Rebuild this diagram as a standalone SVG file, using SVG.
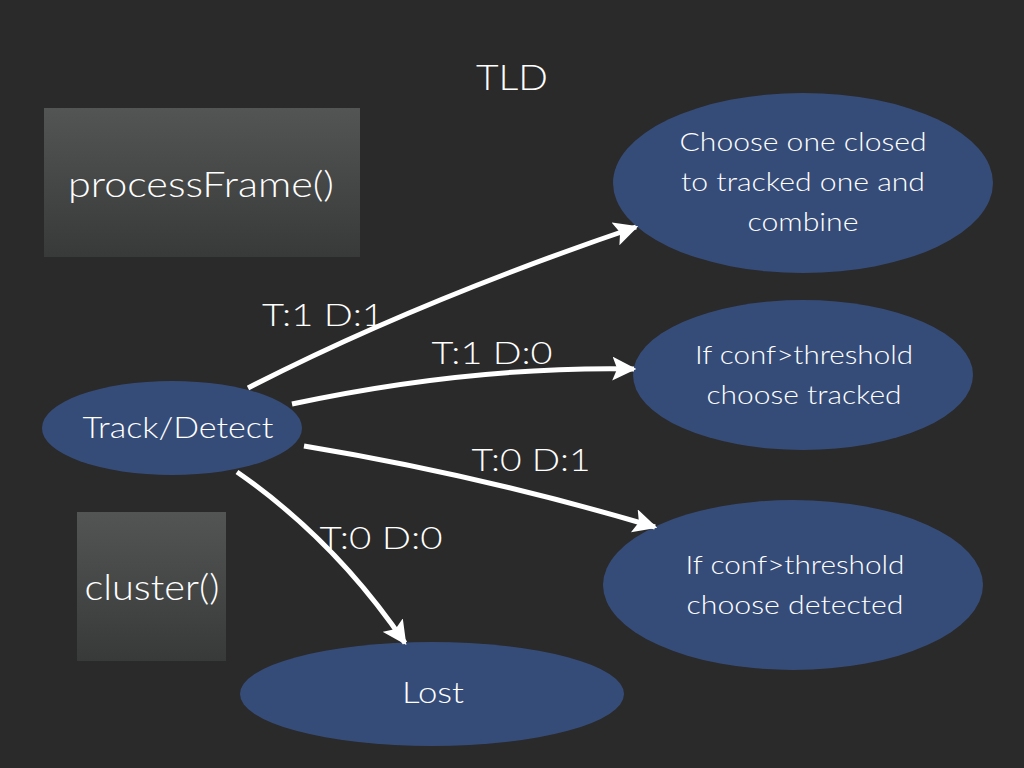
<svg xmlns="http://www.w3.org/2000/svg" width="1024" height="768" viewBox="0 0 1024 768">
<defs>
<linearGradient id="boxg" x1="0" y1="0" x2="0" y2="1">
<stop offset="0" stop-color="#535555"/>
<stop offset="1" stop-color="#383a3a"/>
</linearGradient>
<marker id="arr" viewBox="0 0 10 10" refX="9" refY="5" markerWidth="24" markerHeight="24" markerUnits="userSpaceOnUse" orient="auto">
<path d="M0,0 L10,5 L0,10 L2,5 Z" fill="#ffffff"/>
</marker>
<style>
text{font-family:Lato,"Open Sans","Liberation Sans",sans-serif;font-weight:300;fill:#ffffff;text-anchor:middle}
.ell{fill:#364c78}
.box{fill:url(#boxg)}
.big{font-size:35px}
.lbl{font-size:32px}
.in{font-size:26px}
.conn{fill:none;stroke:#ffffff;stroke-width:5;marker-end:url(#arr)}
</style>
</defs>
<rect width="1024" height="768" fill="#2a2a2a"/>
<text class="big" x="512" y="90" textLength="72" lengthAdjust="spacingAndGlyphs">TLD</text>
<g id="processFrame">
<rect class="box" x="44" y="108" width="316" height="149"/>
<text class="big" x="201" y="197" textLength="266" lengthAdjust="spacingAndGlyphs">processFrame()</text>
</g>
<g id="cluster">
<rect class="box" x="77" y="512" width="149" height="149"/>
<text class="big" x="152" y="600" textLength="135" lengthAdjust="spacingAndGlyphs">cluster()</text>
</g>
<g id="trackdetect">
<ellipse class="ell" cx="172" cy="428" rx="130" ry="47"/>
<text x="178" y="438" style="font-size:29px" textLength="191" lengthAdjust="spacingAndGlyphs">Track/Detect</text>
</g>
<g id="combine">
<ellipse class="ell" cx="803" cy="183" rx="190" ry="90"/>
<text class="in" x="803" y="151" textLength="247" lengthAdjust="spacingAndGlyphs">Choose one closed</text>
<text class="in" x="803" y="191" textLength="244" lengthAdjust="spacingAndGlyphs">to tracked one and</text>
<text class="in" x="803" y="231" textLength="111" lengthAdjust="spacingAndGlyphs">combine</text>
</g>
<g id="tracked">
<ellipse class="ell" cx="803" cy="375" rx="170" ry="75"/>
<text class="in" x="804" y="364" textLength="218" lengthAdjust="spacingAndGlyphs">If conf&gt;threshold</text>
<text class="in" x="804" y="404" textLength="195" lengthAdjust="spacingAndGlyphs">choose tracked</text>
</g>
<g id="detected">
<ellipse class="ell" cx="793" cy="585" rx="190" ry="85"/>
<text class="in" x="795" y="574" textLength="219" lengthAdjust="spacingAndGlyphs">If conf&gt;threshold</text>
<text class="in" x="795" y="614" textLength="217" lengthAdjust="spacingAndGlyphs">choose detected</text>
</g>
<g id="lost">
<ellipse class="ell" cx="432" cy="694" rx="192" ry="52"/>
<text x="433" y="703" style="font-size:29px" textLength="62" lengthAdjust="spacingAndGlyphs">Lost</text>
</g>
<g id="connectors">
<path class="conn" d="M248,388 Q415,302 636,227"/>
<path class="conn" d="M292,404 Q470,366 634,369"/>
<path class="conn" d="M304,446 Q480,475 655,527"/>
<path class="conn" d="M237,472 Q335,540 405,643"/>
</g>
<g id="labels">
<text class="lbl" x="323" y="326" textLength="122" lengthAdjust="spacingAndGlyphs">T:1 D:1</text>
<text class="lbl" x="492" y="364" textLength="121" lengthAdjust="spacingAndGlyphs">T:1 D:0</text>
<text class="lbl" x="531" y="471" textLength="119" lengthAdjust="spacingAndGlyphs">T:0 D:1</text>
<text class="lbl" x="381" y="549" textLength="123" lengthAdjust="spacingAndGlyphs">T:0 D:0</text>
</g>
</svg>
